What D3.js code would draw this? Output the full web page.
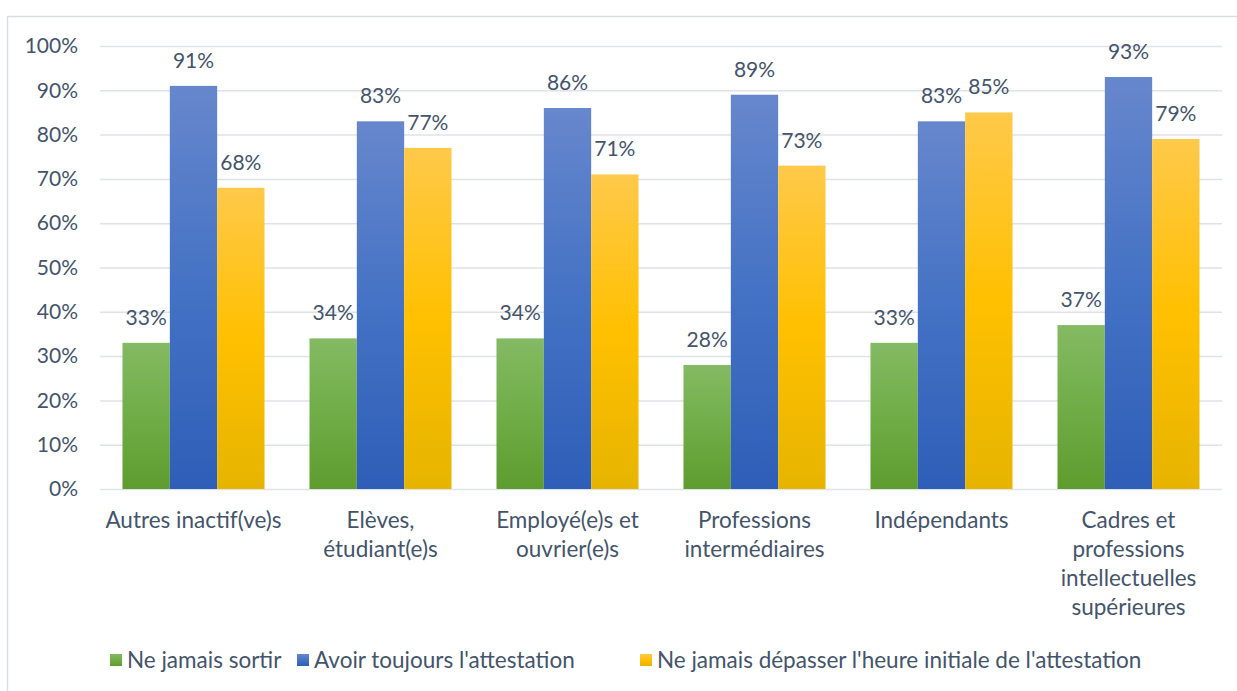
<!DOCTYPE html>
<html>
<head>
<meta charset="utf-8">
<script src="https://cdn.jsdelivr.net/npm/d3@7"></script>
<style>
  body { margin: 0; background: #fff; }
  svg text { font-family: Lato, "Open Sans", sans-serif; fill: #44546a; }
</style>
</head>
<body>
<div id="chart"></div>
<script>
var categories = [
    ["Autres inactif(ve)s"],
    ["Elèves,", "étudiant(e)s"],
    ["Employé(e)s et", "ouvrier(e)s"],
    ["Professions", "intermédiaires"],
    ["Indépendants"],
    ["Cadres et", "professions", "intellectuelles", "supérieures"]
];
var seriesNames = ["Ne jamais sortir", "Avoir toujours l'attestation", "Ne jamais dépasser l'heure initiale de l'attestation"];
var sortir = [33, 34, 34, 28, 33, 37];
var attestation = [91, 83, 86, 89, 83, 93];
var heure = [68, 77, 71, 73, 85, 79];
var yTicks = [0, 10, 20, 30, 40, 50, 60, 70, 80, 90, 100];

var series = [sortir, attestation, heure];
// top, middle, bottom gradient stops
var colors = [
    ["#84ba63", "#70ad47", "#5e9c2f"],
    ["#6787cd", "#4472c4", "#2f5eb8"],
    ["#ffc94a", "#ffc000", "#e6b400"]
];

var W = 1237, H = 691;
var margin = {left: 100, right: 15, top: 46, bottom: 202};

var svg = d3.select('#chart').append('svg')
    .attr('width', W).attr('height', H);

// outer frame
svg.append('rect')
    .attr('x', 7.5).attr('y', 16.5)
    .attr('width', W).attr('height', H)
    .attr('fill', 'none').attr('stroke', '#d9dde3').attr('stroke-width', 1.5);

var defs = svg.append('defs');
colors.forEach(function(c, i) {
    var g = defs.append('linearGradient')
        .attr('id', 'grad' + i)
        .attr('x1', 0).attr('y1', 0).attr('x2', 0).attr('y2', 1);
    g.append('stop').attr('offset', '0%').attr('stop-color', c[0]);
    g.append('stop').attr('offset', '50%').attr('stop-color', c[1]);
    g.append('stop').attr('offset', '100%').attr('stop-color', c[2]);
});

var x0 = d3.scaleBand()
    .domain(d3.range(categories.length))
    .range([margin.left, W - margin.right])
    .paddingInner(0).paddingOuter(0);

var x1 = d3.scaleBand()
    .domain(d3.range(series.length))
    .range([0, x0.bandwidth()])
    .paddingInner(0).paddingOuter(0.475);

var y = d3.scaleLinear().domain([0, 100]).range([H - margin.bottom, margin.top]);

// grid
var gridAxis = d3.axisLeft(y).tickValues(yTicks)
    .tickSize(-(W - margin.right - margin.left)).tickFormat('');
var $grid = svg.append('g')
    .attr('transform', 'translate(' + margin.left + ',0)')
    .call(gridAxis);
$grid.select('.domain').remove();
$grid.selectAll('line').attr('stroke', '#dfe2e7').attr('stroke-width', 1.5);

// y labels
var yAxis = d3.axisLeft(y).tickValues(yTicks).tickSize(0).tickPadding(22)
    .tickFormat(function(d) { return d + '%'; });
var $y = svg.append('g')
    .attr('transform', 'translate(' + margin.left + ',0)')
    .call(yAxis);
$y.select('.domain').remove();
$y.selectAll('text').style('font-size', '21px').attr('fill', '#44546a');

// bars
var groups = svg.selectAll('g.grp')
    .data(categories)
    .enter().append('g')
    .attr('class', 'grp')
    .attr('transform', function(d, i) { return 'translate(' + x0(i) + ',0)'; });

groups.each(function(cat, ci) {
    var g = d3.select(this);
    series.forEach(function(s, si) {
        g.append('rect')
            .attr('x', x1(si))
            .attr('y', y(s[ci]))
            .attr('width', x1.bandwidth())
            .attr('height', y(0) - y(s[ci]))
            .attr('fill', 'url(#grad' + si + ')');
        g.append('text')
            .attr('x', x1(si) + x1.bandwidth() / 2)
            .attr('y', y(s[ci]) - 18)
            .attr('text-anchor', 'middle')
            .style('font-size', '21px')
            .text(s[ci] + '%');
    });
    var t = g.append('text')
        .attr('x', x0.bandwidth() / 2)
        .attr('y', y(0) + 39)
        .attr('text-anchor', 'middle')
        .style('font-size', '22.5px');
    cat.forEach(function(line, li) {
        t.append('tspan')
            .attr('x', x0.bandwidth() / 2)
            .attr('dy', li === 0 ? 0 : 29)
            .text(line);
    });
});

// legend
var legendX = [110, 297, 640];
var legend = svg.append('g');
seriesNames.forEach(function(name, i) {
    legend.append('rect')
        .attr('x', legendX[i]).attr('y', 654)
        .attr('width', 12).attr('height', 12)
        .attr('fill', 'url(#grad' + i + ')');
    legend.append('text')
        .attr('x', legendX[i] + 17).attr('y', 668)
        .style('font-size', '22.5px')
        .text(name);
});
</script>
</body>
</html>
